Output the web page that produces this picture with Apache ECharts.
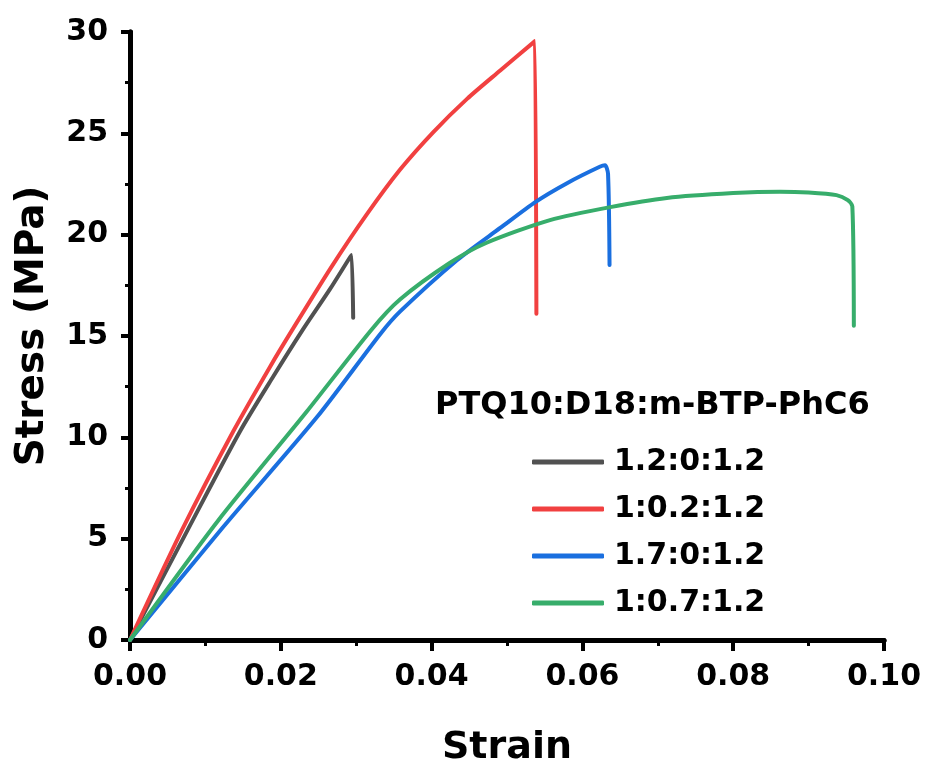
<!DOCTYPE html>
<html>
<head>
<meta charset="utf-8">
<script src="https://cdn.jsdelivr.net/npm/echarts@6/dist/echarts.min.js"></script>
<style>
html,body{margin:0;padding:0;background:#fff;}
#chart{width:931px;height:769px;}
</style>
</head>
<body>
<div id="chart"></div>
<script>
// Series names (legend)
const seriesNames = ['1.2:0:1.2', '1:0.2:1.2', '1.7:0:1.2', '1:0.7:1.2'];
const legendTitle = 'PTQ10:D18:m-BTP-PhC6';

// Strain / stress values
const blackStrain = [0, 0.0076, 0.0146, 0.0190, 0.0229, 0.0265, 0.0292, 0.0294, 0.0296];
const blackStress = [0, 5.40, 10.30, 13.00, 15.30, 17.30, 18.90, 19.0, 15.9];

const redStrain = [0, 0.0069, 0.0137, 0.0186, 0.0216, 0.0267, 0.0314, 0.0358, 0.0402, 0.0447, 0.0491, 0.0534, 0.0537, 0.0539];
const redStress = [0, 5.43, 10.30, 13.50, 15.35, 18.40, 21.00, 23.20, 25.05, 26.70, 28.10, 29.45, 29.55, 16.1];

const blueStrain = [0, 0.0123, 0.0248, 0.0332, 0.0358, 0.0434, 0.0491, 0.0538, 0.0579, 0.0623, 0.0630, 0.0634, 0.0636];
const blueStress = [0, 5.55, 11.00, 15.10, 16.20, 18.75, 20.33, 21.62, 22.53, 23.35, 23.42, 23.0, 18.5];

const greenStrain = [0, 0.0117, 0.0235, 0.0320, 0.0358, 0.0424, 0.0473, 0.0557, 0.0637, 0.0712, 0.0800, 0.0862, 0.0900, 0.0937, 0.0952, 0.0958, 0.0960];
const greenStress = [0, 5.90, 11.30, 15.30, 16.80, 18.60, 19.60, 20.72, 21.36, 21.81, 22.05, 22.12, 22.08, 21.95, 21.70, 21.40, 15.5];

const colors = ['#515151', '#F14040', '#1A6FDF', '#37AD6B'];

function pairs(xs, ys) { return xs.map((x, i) => [x, ys[i]]); }
const allData = [
  pairs(blackStrain, blackStress),
  pairs(redStrain, redStress),
  pairs(blueStrain, blueStress),
  pairs(greenStrain, greenStress)
];

const FONT = 'DejaVu Sans';
const chart = echarts.init(document.getElementById('chart'), null, {renderer: 'canvas'});

const axisLine = {show: true, lineStyle: {color: '#000', width: 5}};

chart.setOption({
  animation: false,
  backgroundColor: '#fff',
  title: {
    text: legendTitle,
    left: 435, top: 390, padding: 0,
    textStyle: {fontFamily: FONT, fontWeight: 'bold', fontSize: 32, color: '#000'}
  },
  legend: {
    data: seriesNames.map(n => ({name: n, icon: 'roundRect'})),
    orient: 'vertical',
    left: 532, top: 444,
    padding: 0,
    itemWidth: 72, itemHeight: 5, itemGap: 11,
    textStyle: {fontFamily: FONT, fontWeight: 'bold', fontSize: 30, color: '#000', lineHeight: 36, padding: [0, 0, 0, 5]}
  },
  grid: {left: 130, right: 47, top: 32, bottom: 129, containLabel: false, outerBoundsMode: 'none'},
  xAxis: [{
    type: 'value', min: 0, max: 0.1, interval: 0.02,
    name: 'Strain', nameLocation: 'middle', nameGap: 89,
    nameTextStyle: {fontFamily: FONT, fontWeight: 'bold', fontSize: 38, color: '#000'},
    axisLine: axisLine,
    axisTick: {show: true, inside: false, length: 11, lineStyle: {color: '#000', width: 4}},
    minorTick: {show: true, splitNumber: 2, length: 6, lineStyle: {color: '#000', width: 3}},
    splitLine: {show: false},
    axisLabel: {fontFamily: FONT, fontWeight: 'bold', fontSize: 30, color: '#000', margin: 22,
      formatter: v => v.toFixed(2)}
  }, {
    type: 'value', min: 0, max: 0.1, position: 'top',
    axisLine: axisLine, axisTick: {show: false}, axisLabel: {show: false}, splitLine: {show: false}
  }],
  yAxis: [{
    type: 'value', min: 0, max: 30, interval: 5,
    name: 'Stress (MPa)', nameLocation: 'middle', nameGap: 78, nameRotate: 90,
    nameTextStyle: {fontFamily: FONT, fontWeight: 'bold', fontSize: 39, color: '#000', padding: [0, 0, 0, 20]},
    axisLine: axisLine,
    axisTick: {show: true, inside: false, length: 9, lineStyle: {color: '#000', width: 4}},
    minorTick: {show: true, splitNumber: 2, length: 5, lineStyle: {color: '#000', width: 3}},
    splitLine: {show: false},
    axisLabel: {fontFamily: FONT, fontWeight: 'bold', fontSize: 30, color: '#000', margin: 22,
      formatter: v => String(v)}
  }, {
    type: 'value', min: 0, max: 30, position: 'right',
    axisLine: axisLine, axisTick: {show: false}, axisLabel: {show: false}, splitLine: {show: false}
  }],
  series: allData.map((d, i) => ({
    name: seriesNames[i],
    type: 'line',
    xAxisIndex: 0, yAxisIndex: 0,
    data: d,
    symbol: 'none',
    smooth: 0.25,
    color: colors[i],
    lineStyle: {color: colors[i], width: 4, cap: 'round', join: 'round'},
    z: 2 + i
  }))
});
</script>
</body>
</html>
